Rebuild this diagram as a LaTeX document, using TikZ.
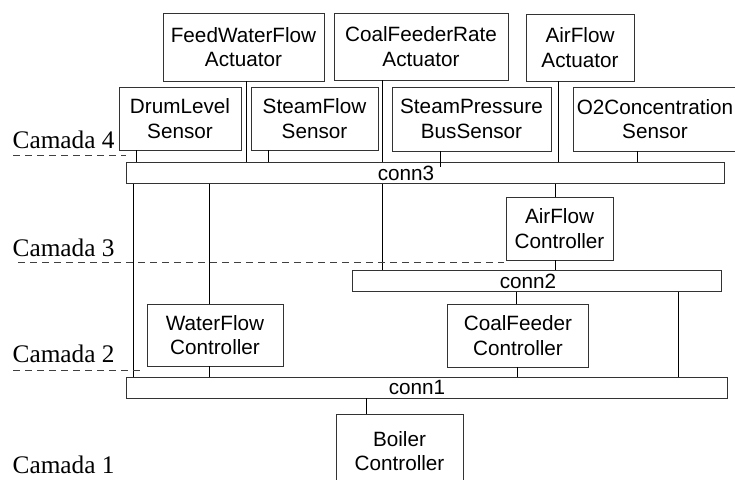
\documentclass[tikz,border=0pt]{standalone}
\usepackage{fontspec}
\setmainfont{Liberation Serif}
\newfontfamily\boxfont{Liberation Sans}
\begin{document}
\begin{tikzpicture}[x=1pt,y=-1pt,
  box/.style={draw=black!80,line width=0.8pt,inner sep=0pt,align=center,
    font=\boxfont\fontsize{20.7}{24.8}\selectfont},
  bar/.style={draw=black!80,line width=0.8pt,inner sep=0pt,minimum height=20.5pt},
  barlabel/.style={inner sep=0pt,font=\boxfont\fontsize{20.7}{24.8}\selectfont},
  wire/.style={black,line width=0.7pt},
  layerline/.style={black!75,line width=0.7pt,dash pattern=on 7pt off 5pt},
  layertext/.style={inner sep=0pt,anchor=base west,font=\fontsize{25.3}{30}\selectfont}]
\useasboundingbox (0,0) rectangle (735,479);
\begin{scope}
\clip (0,0) rectangle (735,479);
% actuators
\node[box,minimum width=161pt,minimum height=68pt] (fwa) at (243.5,47) {FeedWaterFlow\\Actuator};
\node[box,minimum width=174pt,minimum height=67pt] (cfa) at (421,46.5) {CoalFeederRate\\Actuator};
\node[box,minimum width=108pt,minimum height=67pt] (afa) at (580,47.5) {AirFlow\\Actuator};
% sensors
\node[box,minimum width=122pt,minimum height=63pt] (dls) at (180,118.5) {DrumLevel\\Sensor};
\node[box,minimum width=127pt,minimum height=63pt] (sfs) at (314.5,118.5) {SteamFlow\\Sensor};
\node[box,minimum width=159pt,minimum height=64pt] (spb) at (471.5,119) {SteamPressure\\BusSensor};
\node[box,minimum width=164pt,minimum height=64pt] (o2s) at (655,119) {O2Concentration\\Sensor};
% connectors (buses)
\node[bar,minimum width=598pt] (conn3) at (425,173) {};
\node[barlabel] (lc3) at (406,173) {conn3};
\node[bar,minimum width=369pt] (conn2) at (536.5,281) {};
\node[barlabel] (lc2) at (528,281) {conn2};
\node[bar,minimum width=601pt,minimum height=21pt] (conn1) at (426.5,387.5) {};
\node[barlabel] (lc1) at (417,387.5) {conn1};
% controllers
\node[box,minimum width=107pt,minimum height=63pt] (afc) at (559.5,228.5) {AirFlow\\Controller};
\node[box,minimum width=136pt,minimum height=62pt] (wfc) at (215,335) {WaterFlow\\Controller};
\node[box,minimum width=141pt,minimum height=63pt] (cfc) at (518,335.5) {CoalFeeder\\Controller};
\node[box,minimum width=127pt,minimum height=74pt] (boc) at (399.5,451) {Boiler\\Controller};
% wires layer 4 -> conn3
\draw[wire] (136,0 |- dls.south) -- (136,0 |- conn3.north);
\draw[wire] (246,0 |- fwa.south) -- (246,0 |- conn3.north);
\draw[wire] (268,0 |- sfs.south) -- (268,0 |- conn3.north);
\draw[wire] (382,0 |- cfa.south) -- (382,0 |- conn3.north);
\draw[wire] (440,0 |- spb.south) -- (440,167);
\draw[wire] (558,0 |- afa.south) -- (558,0 |- conn3.north);
\draw[wire] (637,0 |- o2s.south) -- (637,0 |- conn3.north);
% conn3 downwards
\draw[wire] (133,0 |- conn3.south) -- (133,0 |- conn1.north);
\draw[wire] (209,0 |- conn3.south) -- (209,0 |- wfc.north);
\draw[wire] (382,0 |- conn3.south) -- (382,0 |- conn2.north);
\draw[wire] (555,0 |- conn3.south) -- (555,0 |- afc.north);
\draw[wire] (555,0 |- afc.south) -- (555,0 |- conn2.north);
% conn2 downwards
\draw[wire] (516,0 |- conn2.south) -- (516,0 |- cfc.north);
\draw[wire] (678,0 |- conn2.south) -- (678,0 |- conn1.north);
% controllers -> conn1
\draw[wire] (209,0 |- wfc.south) -- (209,0 |- conn1.north);
\draw[wire] (517,0 |- cfc.south) -- (517,0 |- conn1.north);
\draw[wire] (366,0 |- conn1.south) -- (366,0 |- boc.north);
% layers
\node[layertext] (cam4) at (12.5,148) {Camada 4};
\node[layertext] (cam3) at (12.5,256) {Camada 3};
\node[layertext] (cam2) at (12.5,362) {Camada 2};
\node[layertext] (cam1) at (12.5,473) {Camada 1};
\coordinate (d4a) at (13,155); \coordinate (d4b) at (126,155);
\coordinate (d3a) at (18,262); \coordinate (d3b) at (504,262);
\coordinate (d2a) at (13,370); \coordinate (d2b) at (143,370);
\draw[layerline] (d4a) -- (d4b);
\draw[layerline] (d3a) -- (d3b);
\draw[layerline] (d2a) -- (d2b);
\end{scope}
\end{tikzpicture}
\end{document}
